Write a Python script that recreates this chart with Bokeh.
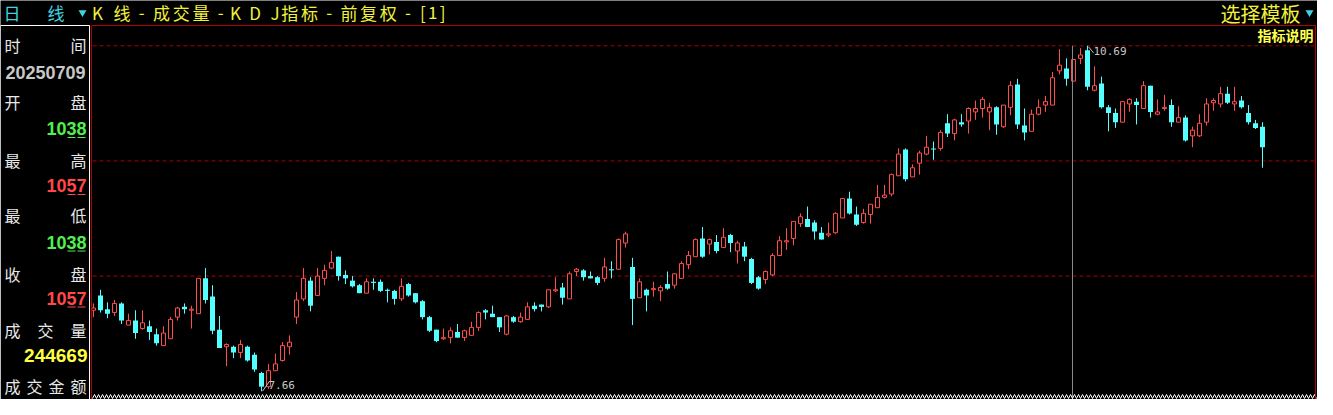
from bokeh.plotting import figure
from bokeh.models import Range1d, ColumnDataSource, CDSView, BooleanFilter
from bokeh.core.properties import value
from bokeh.embed import file_html
from bokeh.resources import INLINE
import numpy as np

# ---------------- data (daily K-line) ----------------
opens = [8.37, 8.50, 8.38, 8.35, 8.43, 8.24, 8.28, 8.21, 8.23, 8.16,
         8.06, 8.12, 8.31, 8.40, 8.37, 8.34, 8.65, 8.49, 8.20, 8.05,
         8.05, 8.00, 8.05, 7.98, 7.82, 7.70, 7.84, 7.93, 8.05, 8.31,
         8.47, 8.63, 8.50, 8.65, 8.74, 8.84, 8.68, 8.63, 8.59, 8.52,
         8.62, 8.62, 8.55, 8.54, 8.47, 8.60, 8.52, 8.45, 8.31, 8.20,
         8.12, 8.13, 8.18, 8.13, 8.15, 8.22, 8.37, 8.34, 8.31, 8.16,
         8.31, 8.27, 8.29, 8.41, 8.42, 8.40, 8.54, 8.57, 8.47, 8.71,
         8.72, 8.67, 8.66, 8.65, 8.73, 8.73, 8.96, 8.75, 8.48, 8.55,
         8.55, 8.54, 8.60, 8.59, 8.65, 8.77, 8.84, 9.00, 8.95, 8.97,
         8.92, 9.03, 8.89, 8.93, 8.82, 8.66, 8.64, 8.68, 8.85, 8.97,
         9.00, 9.13, 9.17, 9.14, 9.05, 9.03, 9.05, 9.18, 9.35, 9.21,
         9.14, 9.21, 9.27, 9.36, 9.39, 9.55, 9.78, 9.54, 9.66, 9.74,
         9.79, 9.79, 10.01, 9.92, 10.02, 10.03, 10.11, 10.14, 10.11, 10.15,
         9.98, 10.15, 10.35, 9.99, 9.94, 10.09, 10.17, 10.17, 10.47, 10.49,
         10.38, 10.58, 10.65, 10.30, 10.36, 10.15, 10.10, 10.02, 10.18, 10.20,
         10.14, 10.34, 10.09, 10.14, 10.17, 10.02, 10.06, 9.90, 9.90, 10.02,
         10.19, 10.18, 10.27, 10.18, 10.21, 10.10, 10.01, 9.98]
highs = [8.43, 8.55, 8.44, 8.46, 8.44, 8.34, 8.37, 8.37, 8.28, 8.21,
         8.23, 8.31, 8.40, 8.43, 8.41, 8.65, 8.74, 8.59, 8.32, 8.08,
         8.06, 8.11, 8.06, 8.00, 7.83, 7.90, 7.99, 8.09, 8.15, 8.53,
         8.74, 8.66, 8.74, 8.77, 8.89, 8.84, 8.72, 8.67, 8.60, 8.65,
         8.65, 8.64, 8.56, 8.55, 8.65, 8.61, 8.52, 8.46, 8.32, 8.20,
         8.21, 8.22, 8.25, 8.20, 8.27, 8.36, 8.38, 8.41, 8.31, 8.33,
         8.32, 8.35, 8.44, 8.44, 8.42, 8.55, 8.66, 8.61, 8.71, 8.74,
         8.73, 8.71, 8.67, 8.83, 8.80, 9.00, 9.06, 8.83, 8.65, 8.56,
         8.62, 8.59, 8.71, 8.69, 8.80, 8.89, 9.00, 9.10, 9.00, 9.03,
         9.09, 9.04, 8.98, 8.97, 8.83, 8.67, 8.72, 8.87, 9.02, 9.09,
         9.15, 9.22, 9.28, 9.16, 9.10, 9.14, 9.23, 9.35, 9.41, 9.28,
         9.26, 9.30, 9.47, 9.47, 9.57, 9.79, 9.79, 9.65, 9.77, 9.90,
         9.85, 9.95, 10.09, 10.05, 10.09, 10.15, 10.21, 10.24, 10.19, 10.16,
         10.17, 10.38, 10.40, 10.14, 10.13, 10.22, 10.25, 10.46, 10.66, 10.58,
         10.57, 10.67, 10.69, 10.51, 10.42, 10.17, 10.14, 10.20, 10.23, 10.23,
         10.38, 10.34, 10.22, 10.26, 10.22, 10.16, 10.08, 9.98, 10.09, 10.23,
         10.23, 10.33, 10.33, 10.33, 10.25, 10.17, 10.04, 10.02]
lows = [8.31, 8.35, 8.30, 8.32, 8.25, 8.24, 8.12, 8.20, 8.11, 8.06,
        8.06, 8.12, 8.28, 8.34, 8.21, 8.34, 8.43, 8.16, 8.04, 7.88,
        7.95, 7.95, 7.92, 7.83, 7.66, 7.68, 7.84, 7.92, 7.98, 8.25,
        8.45, 8.36, 8.50, 8.59, 8.73, 8.63, 8.60, 8.57, 8.52, 8.52,
        8.55, 8.53, 8.44, 8.42, 8.45, 8.49, 8.43, 8.29, 8.18, 8.09,
        8.11, 8.08, 8.13, 8.10, 8.15, 8.19, 8.29, 8.31, 8.18, 8.15,
        8.26, 8.26, 8.29, 8.36, 8.36, 8.39, 8.53, 8.42, 8.47, 8.67,
        8.63, 8.65, 8.59, 8.62, 8.65, 8.73, 8.92, 8.24, 8.48, 8.36,
        8.49, 8.45, 8.55, 8.56, 8.65, 8.73, 8.84, 8.83, 8.86, 8.87,
        8.92, 8.88, 8.78, 8.80, 8.60, 8.55, 8.60, 8.67, 8.85, 8.90,
        8.94, 9.10, 9.10, 8.99, 8.99, 9.01, 9.04, 9.18, 9.21, 9.11,
        9.13, 9.13, 9.27, 9.35, 9.37, 9.55, 9.50, 9.54, 9.56, 9.73,
        9.69, 9.77, 9.89, 9.86, 9.98, 9.92, 10.04, 10.06, 9.95, 9.91,
        9.97, 10.08, 9.96, 9.86, 9.94, 10.08, 10.11, 10.17, 10.44, 10.34,
        10.38, 10.53, 10.30, 10.29, 10.14, 9.94, 9.97, 10.02, 10.11, 10.00,
        10.14, 10.06, 10.08, 10.12, 9.98, 10.02, 9.85, 9.80, 9.89, 9.99,
        10.12, 10.15, 10.18, 10.12, 10.14, 10.00, 9.96, 9.62]
closes = [8.39, 8.37, 8.34, 8.43, 8.28, 8.28, 8.17, 8.26, 8.18, 8.08,
          8.17, 8.29, 8.39, 8.38, 8.38, 8.65, 8.46, 8.19, 8.04, 8.07,
          8.00, 8.07, 7.93, 7.85, 7.70, 7.84, 7.90, 8.06, 8.09, 8.46,
          8.65, 8.41, 8.67, 8.72, 8.79, 8.67, 8.65, 8.58, 8.52, 8.62,
          8.61, 8.54, 8.54, 8.47, 8.58, 8.50, 8.44, 8.31, 8.19, 8.10,
          8.13, 8.19, 8.13, 8.19, 8.22, 8.35, 8.35, 8.31, 8.22, 8.32,
          8.27, 8.31, 8.40, 8.38, 8.40, 8.55, 8.55, 8.48, 8.69, 8.73,
          8.66, 8.65, 8.61, 8.75, 8.72, 8.99, 9.04, 8.47, 8.62, 8.50,
          8.56, 8.57, 8.56, 8.69, 8.78, 8.85, 8.99, 8.84, 8.99, 8.89,
          9.01, 8.96, 8.96, 8.84, 8.61, 8.56, 8.71, 8.85, 8.98, 8.98,
          9.15, 9.19, 9.10, 9.06, 8.99, 9.04, 9.22, 9.35, 9.22, 9.12,
          9.22, 9.30, 9.36, 9.38, 9.56, 9.74, 9.52, 9.62, 9.75, 9.80,
          9.78, 9.93, 9.92, 10.04, 10.00, 10.14, 10.14, 10.22, 10.15, 10.00,
          10.17, 10.34, 10.00, 9.93, 10.09, 10.15, 10.20, 10.41, 10.52, 10.40,
          10.57, 10.61, 10.33, 10.34, 10.15, 10.10, 10.02, 10.20, 10.22, 10.17,
          10.34, 10.11, 10.11, 10.15, 10.02, 10.06, 9.86, 9.95, 10.01, 10.18,
          10.21, 10.27, 10.19, 10.20, 10.15, 10.02, 9.97, 9.80]

sel_idx = 140
sel_date = "20250709"
sel_volume = 244669

period_chars = ["日", "线"]
title_text = "K 线-成交量-K D J指标-前复权-[1]"
template_text = "选择模板"
help_text = "指标说明"
field_labels = [("开", "盘"), ("最", "高"), ("最", "低"), ("收", "盘")]
time_label = ("时", "间")
vol_label = ["成", "交", "量"]
amt_label = ["成", "交", "金", "额"]

# ---------------- layout / style ----------------
W, H = 1317, 399
PX = 7.0          # px per bar
PY = 114.0        # px per price unit
BAR0 = 93.0       # px of first bar centre
TOPPX = 45.3      # px of the highest high

RED = "#ff4c4c"
CYAN = "#55ffff"
GRID_RED = "#a80000"
BORDER_RED = "#b40000"
TXT_RED = "#ff4848"
TXT_GREEN = "#50f050"
YELLOW = "#f2f23c"
WHITE = "#e8e8e8"
GRAY = "#c8c8c8"
CJK = value("Noto Sans CJK SC")
NUM = value("Liberation Sans")
MONO = value("DejaVu Sans Mono")

n = len(closes)
hi = max(highs)
lo = min(lows)
ihi = highs.index(hi)
ilo = lows.index(lo)

XS = -BAR0 / PX
XE = XS + W / PX
YT = hi + TOPPX / PY
YB = YT - H / PY


def fx(px):
    return XS + np.asarray(px, dtype=float) / PX


def fy(py):
    return YT - np.asarray(py, dtype=float) / PY


p = figure(width=W, height=H, x_range=Range1d(XS, XE), y_range=Range1d(YB, YT),
           output_backend="svg", toolbar_location=None, min_border=0,
           x_axis_location=None, y_axis_location=None,
           background_fill_color="black", border_fill_color="black",
           outline_line_color=None)
p.grid.visible = False

# dashed grid lines: top = highest high, then thirds of the range
levels = [hi - k * (hi - lo) / 3 for k in range(3)]
for g in levels:
    p.segment(x0=[float(fx(92))], x1=[float(fx(W))], y0=[g], y1=[g],
              line_color=GRID_RED, line_dash="4 3", line_width=1)

# candles
idx = list(range(n))
up = [c >= o for o, c in zip(opens, closes)]
src = ColumnDataSource(dict(
    x=idx, o=opens, h=highs, l=lows, c=closes,
    top=[max(o, c) for o, c in zip(opens, closes)],
    bot=[min(o, c) for o, c in zip(opens, closes)],
    color=[RED if u else CYAN for u in up]))
p.segment(x0="x", y0="l", x1="x", y1="h", line_color="color", line_width=1, source=src)
down_view = CDSView(filter=BooleanFilter([not u for u in up]))
up_view = CDSView(filter=BooleanFilter(up))
p.vbar(x="x", width=5 / PX, top="top", bottom="bot", fill_color=CYAN,
       line_color=None, source=src, view=down_view)
p.vbar(x="x", width=4 / PX, top="top", bottom="bot", fill_color="black",
       line_color=RED, line_width=1, source=src, view=up_view)

# crosshair on the selected day
p.segment(x0=[sel_idx - 1 / PX], x1=[sel_idx - 1 / PX], y0=[hi], y1=[YB],
          line_color="#8a8a8a", line_width=1)

# max / min markers
p.segment(x0=[ihi + 1 / PX], y0=[hi - 1 / PY], x1=[ihi + 6 / PX], y1=[hi - 7 / PY],
          line_color=GRAY, line_width=1)
p.text(x=[ihi], y=[hi], text=[f"{hi:.2f}"], x_offset=6, y_offset=5,
       text_font=MONO, text_font_size=value("11px"), text_color=GRAY,
       text_align="left", text_baseline="middle")
p.segment(x0=[ilo + 1 / PX], y0=[lo], x1=[ilo + 8 / PX], y1=[lo + 10 / PY],
          line_color=GRAY, line_width=1)
p.text(x=[ilo], y=[lo], text=[f"{lo:.2f}"], x_offset=7, y_offset=-6,
       text_font=MONO, text_font_size=value("11px"), text_color=GRAY,
       text_align="left", text_baseline="middle")

# bottom zigzag border
zx = np.arange(92, W, 2)
zy = np.where(np.arange(len(zx)) % 2 == 0, 398, 394)
p.line(fx(zx), fy(zy), line_color="white", line_width=1)


# frames (integer px: the renderer adds a half-pixel shift)
def seg(x0, y0, x1, y1, color):
    p.segment(x0=[float(fx(x0))], y0=[float(fy(y0))], x1=[float(fx(x1))], y1=[float(fy(y1))],
              line_color=color, line_width=1)


seg(0, 25, 89, 25, "white")
seg(0, 25, 0, H, "white")
seg(89, 25, 89, H, "white")
seg(91, 25, 1315, 25, BORDER_RED)
seg(91, 25, 91, H, BORDER_RED)
seg(1315, 25, 1315, H, BORDER_RED)


def txt(px, py, s, size, color, font=CJK, align="left", style="normal"):
    p.text(x=[float(fx(px))], y=[float(fy(py))], text=[s], text_font=font,
           text_font_size=value(size), text_color=color, text_align=align,
           text_baseline="middle", text_font_style=style)


# header
HCYAN = "#40d4e0"
txt(11.5, 11.5, period_chars[0], "17px", HCYAN, align="center")
txt(55.5, 11.5, period_chars[1], "17px", HCYAN, align="center")
p.scatter(x=[float(fx(82))], y=[float(fy(12))], marker="inverted_triangle", size=8,
          fill_color=HCYAN, line_color=None)

# title laid out on a fixed character grid (wide chars and dashes take 2 cells)
units = [2 if (ord(ch) > 255 or ch == "-") else 1 for ch in title_text]
cell = 355.0 / sum(units)
pos = 92.0
xs_t, ys_t, chars_t = [], [], []
for ch, u in zip(title_text, units):
    if ch != " ":
        xs_t.append(float(fx(pos + u * cell / 2)))
        ys_t.append(float(fy(11.5)))
        chars_t.append(ch)
    pos += u * cell
p.text(x=xs_t, y=ys_t, text=chars_t, text_font=CJK, text_font_size=value("17px"),
       text_color=YELLOW, text_align="center", text_baseline="middle")

txt(1300, 13, template_text, "20px", YELLOW, align="right")
p.scatter(x=[float(fx(1309))], y=[float(fy(12))], marker="inverted_triangle", size=8,
          fill_color=HCYAN, line_color=None)
txt(1313, 34.5, help_text, "14px", "#ffff50", align="right", style="bold")

# left info panel
LX, RX = 4, 86


def pair(py, a, b):
    txt(LX, py, a, "16px", WHITE)
    txt(RX, py, b, "16px", WHITE, align="right")


pair(44, *time_label)
txt(45, 71.5, sel_date, "18px", GRAY, font=NUM, align="center", style="bold")

prev_close = closes[sel_idx - 1]
vals = [opens[sel_idx], highs[sel_idx], lows[sel_idx], closes[sel_idx]]
label_rows = [101, 159, 214, 273]
num_rows = [128, 185, 241.5, 297.5]
DW = 10.0
for (a, b), v, ly, ny in zip(field_labels, vals, label_rows, num_rows):
    pair(ly, a, b)
    col = TXT_RED if v > prev_close else (TXT_GREEN if v < prev_close else WHITE)
    s = f"{v:.2f}".replace(".", "")
    txt(RX, ny, s, "18px", col, font=NUM, align="right", style="bold")
    for k in range(2):
        x0 = RX - (2 - k) * DW + 1
        seg(x0, ny + 9, x0 + DW - 2, ny + 9, col)

for ch, cx in zip(vol_label, [12, 45, 78]):
    txt(cx, 329, ch, "16px", WHITE, align="center")
txt(RX + 1, 355, str(sel_volume), "19px", "#ffff40", font=NUM, align="right", style="bold")
for ch, cx in zip(amt_label, [12, 34, 56, 78]):
    txt(cx, 385, ch, "16px", WHITE, align="center")

open("out.html", "w", encoding="utf-8").write(file_html(p, INLINE, title="K线"))
